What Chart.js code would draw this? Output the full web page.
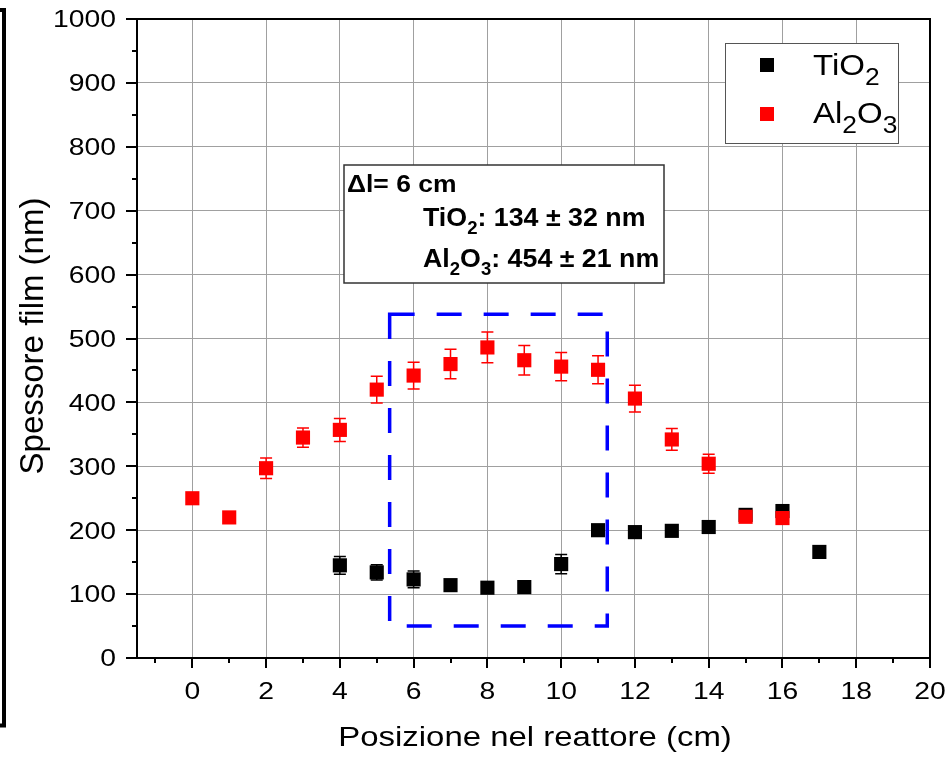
<!DOCTYPE html>
<html>
<head>
<meta charset="utf-8">
<script src="https://cdn.jsdelivr.net/npm/chart.js@4.4.1/dist/chart.umd.min.js"></script>
<style>
  html, body { margin: 0; padding: 0; background: #fff; }
  #wrap { width: 946px; height: 758px; position: relative; }
</style>
</head>
<body>
<div id="wrap"><canvas id="chart"></canvas></div>
<script>
//Film thickness along the reactor
const tio2Pos = [4, 5, 6, 7, 8, 9, 10, 11, 12, 13, 14, 15, 16, 17];
const tio2Thick = [145, 134, 123, 114, 110, 111, 147, 200, 197, 199, 205, 224, 230, 166];
const tio2Err = [14, 12, 13, 8, 6, 7, 15, 6, 5, 5, 6, 6, 6, 5];

const al2o3Pos = [0, 1, 2, 3, 4, 5, 6, 7, 8, 9, 10, 11, 12, 13, 14, 15, 16];
const al2o3Thick = [250, 220, 297, 345, 357, 420, 442, 460, 486, 466, 456, 451, 406, 342, 304, 221, 219];
const al2o3Err = [8, 5, 16, 15, 18, 21, 21, 23, 24, 23, 22, 22, 21, 17, 15, 8, 8];

//Tick values (major ones get a label)
const xTicks = [0, 2, 4, 6, 8, 10, 12, 14, 16, 18, 20];
const xMinorTicks = [-1, 1, 3, 5, 7, 9, 11, 13, 15, 17, 19];
const yTicks = [0, 100, 200, 300, 400, 500, 600, 700, 800, 900, 1000];
const yMinorTicks = [50, 150, 250, 350, 450, 550, 650, 750, 850, 950];

//Dashed zone of the uniform region (data units)
const zoneX = [5.35, 11.25];
const zoneY = [50, 538];

const FONT = "'Liberation Sans', Arial, sans-serif";
const errSets = [tio2Err, al2o3Err];

//Draws text made of pieces, some of them subscripts, with a horizontal stretch
function drawRich(ctx, parts, x, y, o) {
  ctx.save();
  ctx.translate(x, y);
  if (o.rot) ctx.rotate(o.rot);
  ctx.scale(o.sx || 1, 1);
  ctx.fillStyle = "#000";
  ctx.textBaseline = "alphabetic";
  ctx.textAlign = "left";
  let total = 0;
  parts.forEach((p) => {
    ctx.font = p[1] ? o.subFont : o.font;
    total += ctx.measureText(p[0]).width;
  });
  let cx = 0;
  if (o.align === "center") cx = -total / 2;
  if (o.align === "right") cx = -total;
  parts.forEach((p) => {
    ctx.font = p[1] ? o.subFont : o.font;
    ctx.fillText(p[0], cx, p[1] ? o.subDy : 0);
    cx += ctx.measureText(p[0]).width;
  });
  ctx.restore();
}

//Vertical error bars with caps, under the squares
const errorBars = {
  id: "errorBars",
  beforeDatasetsDraw(chart) {
    const ctx = chart.ctx;
    const yScale = chart.scales.y;
    chart.data.datasets.forEach((ds, di) => {
      const meta = chart.getDatasetMeta(di);
      const errs = errSets[di];
      ctx.save();
      ctx.strokeStyle = ds.backgroundColor;
      ctx.lineWidth = 1.5;
      meta.data.forEach((pt, i) => {
        const v = ds.data[i].y;
        const top = yScale.getPixelForValue(v + errs[i]);
        const bot = yScale.getPixelForValue(v - errs[i]);
        ctx.beginPath();
        ctx.moveTo(pt.x, top);
        ctx.lineTo(pt.x, bot);
        ctx.moveTo(pt.x - 6, top);
        ctx.lineTo(pt.x + 6, top);
        ctx.moveTo(pt.x - 6, bot);
        ctx.lineTo(pt.x + 6, bot);
        ctx.stroke();
      });
      ctx.restore();
    });
  },
};

//Dashed box over the points
const zoneBox = {
  id: "zoneBox",
  afterDatasetsDraw(chart) {
    const ctx = chart.ctx;
    const xs = chart.scales.x;
    const ys = chart.scales.y;
    const l = xs.getPixelForValue(zoneX[0]);
    const r = xs.getPixelForValue(zoneX[1]);
    const t = ys.getPixelForValue(zoneY[1]);
    const b = ys.getPixelForValue(zoneY[0]);
    ctx.save();
    ctx.strokeStyle = "#0000ff";
    ctx.lineWidth = 3.5;
    ctx.setLineDash([25, 22]);
    ctx.strokeRect(l, t, r - l, b - t);
    ctx.restore();
  },
};

//Frame, ticks, labels, legend and the text box
const decor = {
  id: "decor",
  afterDraw(chart) {
    const ctx = chart.ctx;
    const a = chart.chartArea;
    const xs = chart.scales.x;
    const ys = chart.scales.y;

    ctx.save();
    ctx.strokeStyle = "#000";
    ctx.lineWidth = 2;
    ctx.beginPath();
    ctx.moveTo(a.left, a.top);
    ctx.lineTo(a.right, a.top);
    ctx.lineTo(a.right, a.bottom);
    ctx.stroke();

    //tick marks, snapped to whole pixels so they stay crisp
    ctx.beginPath();
    xTicks.forEach((v) => {
      const px = Math.round(xs.getPixelForValue(v));
      ctx.moveTo(px, a.bottom);
      ctx.lineTo(px, a.bottom + 10);
    });
    xMinorTicks.forEach((v) => {
      const px = Math.round(xs.getPixelForValue(v));
      ctx.moveTo(px, a.bottom);
      ctx.lineTo(px, a.bottom + 5);
    });
    yTicks.forEach((v) => {
      const py = Math.round(ys.getPixelForValue(v));
      ctx.moveTo(a.left, py);
      ctx.lineTo(a.left - 11, py);
    });
    yMinorTicks.forEach((v) => {
      const py = Math.round(ys.getPixelForValue(v));
      ctx.moveTo(a.left, py);
      ctx.lineTo(a.left - 5, py);
    });
    ctx.stroke();

    //left bracket of the cropped frame
    ctx.lineWidth = 4;
    ctx.beginPath();
    ctx.moveTo(0, 10);
    ctx.lineTo(4, 10);
    ctx.lineTo(4, 725.5);
    ctx.lineTo(0, 725.5);
    ctx.stroke();
    ctx.restore();

    const tickFont = { font: "23px " + FONT, sx: 1.23 };
    xTicks.forEach((v) => {
      drawRich(ctx, [[String(v)]], xs.getPixelForValue(v), a.bottom + 41, Object.assign({ align: "center" }, tickFont));
    });
    yTicks.forEach((v) => {
      drawRich(ctx, [[String(v)]], a.left - 21, ys.getPixelForValue(v) + 8.3, Object.assign({ align: "right" }, tickFont));
    });

    //axis titles
    drawRich(ctx, [["Posizione nel reattore (cm)"]], 535, 746, { font: "27px " + FONT, sx: 1.22, align: "center" });
    drawRich(ctx, [["Spessore film (nm)"]], 43, 336, { font: "33px " + FONT, rot: -Math.PI / 2, align: "center" });

    //legend
    ctx.save();
    ctx.fillStyle = "#fff";
    ctx.fillRect(725, 43, 173, 100);
    ctx.strokeStyle = "#555";
    ctx.lineWidth = 1;
    ctx.strokeRect(725.5, 43.5, 173, 100);
    ctx.fillStyle = chart.data.datasets[0].backgroundColor;
    ctx.fillRect(760, 58, 14, 14);
    ctx.fillStyle = chart.data.datasets[1].backgroundColor;
    ctx.fillRect(760, 107, 14, 14);
    ctx.restore();
    const legFont = { font: "30px " + FONT, subFont: "24px " + FONT, subDy: 10, sx: 1.1 };
    drawRich(ctx, [["TiO"], ["2", true]], 813, 75, legFont);
    drawRich(ctx, [["Al"], ["2", true], ["O"], ["3", true]], 813, 123, legFont);

    //text box with the averages
    ctx.save();
    ctx.fillStyle = "#fff";
    ctx.fillRect(344, 165, 320, 118);
    ctx.strokeStyle = "#333";
    ctx.lineWidth = 1.5;
    ctx.strokeRect(344, 165, 320, 118);
    ctx.restore();
    drawRich(ctx, [["\u0394l= 6 cm"]], 347, 191.5, { font: "bold 23px " + FONT, sx: 1.15 });
    const boxFont = { font: "bold 26px " + FONT, subFont: "bold 18px " + FONT, subDy: 8, sx: 1.03 };
    drawRich(ctx, [["TiO"], ["2", true], [": 134 \u00b1 32 nm"]], 423, 226, boxFont);
    drawRich(ctx, [["Al"], ["2", true], ["O"], ["3", true], [": 454 \u00b1 21 nm"]], 423, 266.5, boxFont);
  },
};

const gridOpts = { color: "#a0a0a0", lineWidth: 1, drawTicks: false };

new Chart(document.getElementById("chart"), {
  type: "scatter",
  data: {
    datasets: [
      {
        label: "TiO2",
        data: tio2Pos.map((x, i) => ({ x: x, y: tio2Thick[i] })),
        backgroundColor: "#000000",
        borderWidth: 0,
        pointStyle: "rect",
        pointRadius: 10,
        pointHoverRadius: 10,
        order: 1,
      },
      {
        label: "Al2O3",
        data: al2o3Pos.map((x, i) => ({ x: x, y: al2o3Thick[i] })),
        backgroundColor: "#ff0000",
        borderWidth: 0,
        pointStyle: "rect",
        pointRadius: 10,
        pointHoverRadius: 10,
        order: 0,
      },
    ],
  },
  options: {
    responsive: true,
    maintainAspectRatio: false,
    animation: false,
    events: [],
    layout: { padding: { top: 19, right: 16, left: 0, bottom: 0 } },
    plugins: { legend: { display: false }, tooltip: { enabled: false } },
    scales: {
      x: {
        type: "linear",
        min: -1.5,
        max: 20,
        ticks: { stepSize: 2, includeBounds: false, display: false },
        grid: gridOpts,
        border: { color: "#000", width: 2 },
        afterFit(s) { s.height = 100; },
      },
      y: {
        min: 0,
        max: 1000,
        ticks: { stepSize: 100, display: false },
        grid: gridOpts,
        border: { color: "#000", width: 2 },
        afterFit(s) { s.width = 137; },
      },
    },
  },
  plugins: [errorBars, zoneBox, decor],
});
</script>
</body>
</html>
